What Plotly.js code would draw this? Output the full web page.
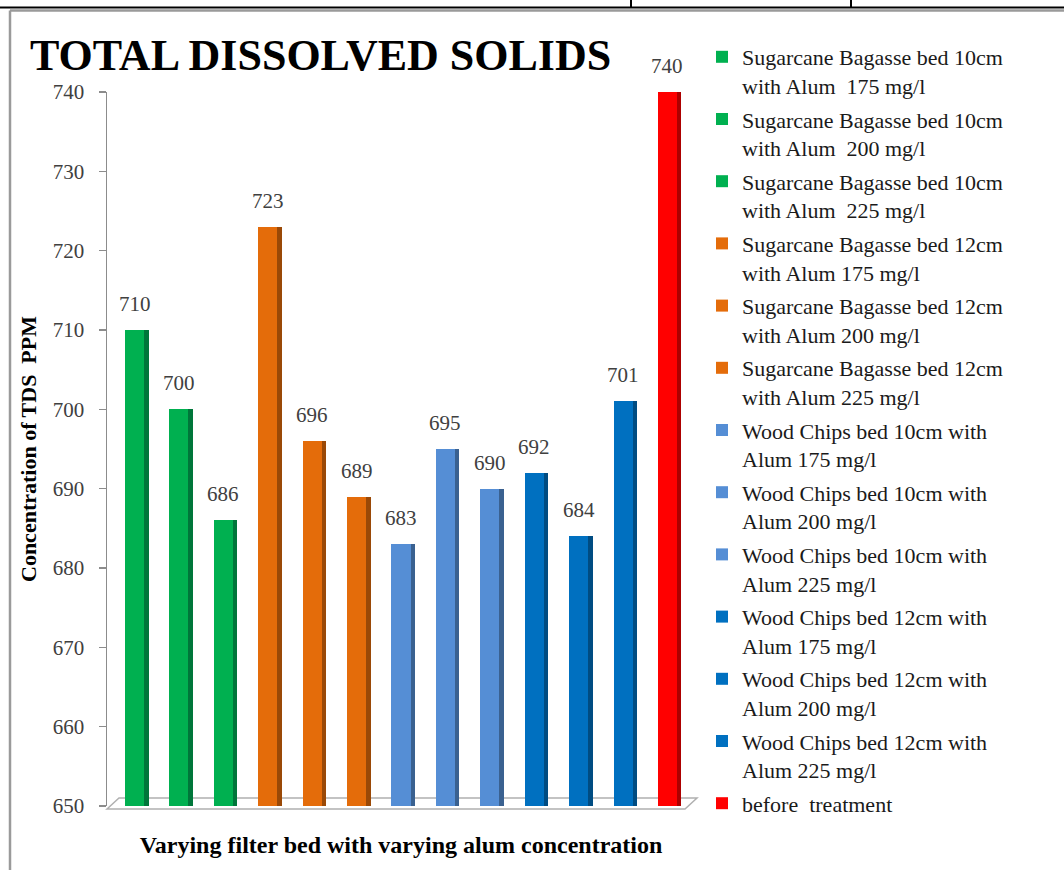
<!DOCTYPE html>
<html>
<head>
<meta charset="utf-8">
<script src="https://cdn.plot.ly/plotly-3.0.1.min.js"></script>
<style>html,body{margin:0;padding:0;background:#fff;}#chart{width:1064px;height:870px;}</style>
</head>
<body>
<div id="chart"></div>
<script>
// ---- data ----
const categories = [
  "Sugarcane Bagasse bed 10cm<br>with Alum  175 mg/l",
  "Sugarcane Bagasse bed 10cm<br>with Alum  200 mg/l",
  "Sugarcane Bagasse bed 10cm<br>with Alum  225 mg/l",
  "Sugarcane Bagasse bed 12cm<br>with Alum 175 mg/l",
  "Sugarcane Bagasse bed 12cm<br>with Alum 200 mg/l",
  "Sugarcane Bagasse bed 12cm<br>with Alum 225 mg/l",
  "Wood Chips bed 10cm with<br>Alum 175 mg/l",
  "Wood Chips bed 10cm with<br>Alum 200 mg/l",
  "Wood Chips bed 10cm with<br>Alum 225 mg/l",
  "Wood Chips bed 12cm with<br>Alum 175 mg/l",
  "Wood Chips bed 12cm with<br>Alum 200 mg/l",
  "Wood Chips bed 12cm with<br>Alum 225 mg/l",
  "before  treatment"
];
const values = [710, 700, 686, 723, 696, 689, 683, 695, 690, 692, 684, 701, 740];
const faceColors = ["#00B050","#00B050","#00B050","#E46C0A","#E46C0A","#E46C0A",
                    "#558ED5","#558ED5","#558ED5","#0070C0","#0070C0","#0070C0","#FF0000"];
const sideColors = ["#00763A","#00763A","#00763A","#9A4907","#9A4907","#9A4907",
                    "#3A6190","#3A6190","#3A6190","#004C82","#004C82","#004C82","#AD0000"];
const yTicks = [650, 660, 670, 680, 690, 700, 710, 720, 730, 740];

// ---- geometry helpers (pixel -> paper) ----
const W = 1064, H = 870;
const M = {l: 107, r: 369, t: 92, b: 64};
const PW = W - M.l - M.r, PH = H - M.t - M.b;
const px = p => (p - M.l) / PW;
const py = q => (H - M.b - q) / PH;

const serif = "'Liberation Serif', 'Times New Roman', serif";
const traces = [];
categories.forEach((name, i) => {
  traces.push({
    type: "bar", x: [i], y: [values[i]], name: name,
    width: 0.43, offset: -0.215,
    marker: {color: faceColors[i]},
    legendgroup: "g" + i, showlegend: true,
    hovertemplate: "%{y}<extra></extra>"
  });
  traces.push({
    type: "bar", x: [i], y: [values[i]], name: name,
    width: 0.1, offset: 0.215,
    marker: {color: sideColors[i]},
    legendgroup: "g" + i, showlegend: false, hoverinfo: "skip"
  });
});

const annotations = values.map((v, i) => ({
  x: i, y: v, xref: "x", yref: "y", text: String(v), showarrow: false,
  yanchor: "bottom", yshift: 12,
  font: {family: serif, size: 21, color: "#404040"}
}));

const shapes = [
  // page frame lines
  {type: "line", xref: "paper", yref: "paper", x0: px(0), x1: px(1064), y0: py(7.5), y1: py(7.5), line: {color: "#000", width: 2}},
  {type: "line", xref: "paper", yref: "paper", x0: px(631), x1: px(631), y0: py(0), y1: py(7.5), line: {color: "#000", width: 2}},
  {type: "line", xref: "paper", yref: "paper", x0: px(851), x1: px(851), y0: py(0), y1: py(7.5), line: {color: "#000", width: 2}},
  // chart border (gray)
  {type: "line", xref: "paper", yref: "paper", x0: px(10), x1: px(1064), y0: py(10.5), y1: py(10.5), line: {color: "#9a9a9a", width: 2.5}},
  {type: "line", xref: "paper", yref: "paper", x0: px(10), x1: px(10), y0: py(10.5), y1: py(870), line: {color: "#9a9a9a", width: 2.5}},
  // 3D floor
  {type: "path", xref: "paper", yref: "paper", layer: "below",
   path: `M ${px(107)} ${py(809)} L ${px(119)} ${py(798)} L ${px(697)} ${py(798)} L ${px(685)} ${py(809)} Z`,
   fillcolor: "rgba(255,255,255,0)", line: {color: "#b0b0b0", width: 1.5}}
];

const layout = {
  width: W, height: H,
  margin: M,
  paper_bgcolor: "#ffffff", plot_bgcolor: "rgba(0,0,0,0)",
  barmode: "overlay",
  bargap: 0,
  title: {
    text: "<b>TOTAL DISSOLVED SOLIDS</b>",
    x: 30 / W, xref: "container", xanchor: "left",
    y: 1 - 55 / H, yref: "container", yanchor: "middle",
    font: {family: serif, size: 44, color: "#000"}
  },
  xaxis: {
    range: [-0.62, 12.62], showticklabels: false, ticks: "", showgrid: false,
    zeroline: false, showline: false,
    title: {text: "<b>Varying filter bed with varying alum concentration</b>",
            font: {family: serif, size: 24, color: "#000"}, standoff: 30}
  },
  yaxis: {
    range: [650, 740], tickvals: yTicks, showgrid: false, zeroline: false,
    showline: true, linecolor: "#8c8c8c", linewidth: 1.5,
    ticks: "outside", ticklen: 7, tickcolor: "#8c8c8c", tickwidth: 1.5,
    ticklabelstandoff: 10,
    tickfont: {family: serif, size: 21, color: "#404040"},
    title: {text: "<b>Concentration of TDS  PPM</b>",
            font: {family: serif, size: 22, color: "#000"}, standoff: 10}
  },
  legend: {
    x: px(702), xanchor: "left", y: py(36), yanchor: "top",
    xref: "paper", yref: "paper",
    font: {family: serif, size: 22, color: "#1a1a1a"},
    tracegroupgap: 2, bgcolor: "rgba(0,0,0,0)", borderwidth: 0,
    maxheight: 860, valign: "top",
    itemclick: false, itemdoubleclick: false
  },
  showlegend: true,
  annotations: annotations,
  shapes: shapes
};

Plotly.newPlot("chart", traces, layout, {displayModeBar: false, staticPlot: true});
</script>
</body>
</html>
